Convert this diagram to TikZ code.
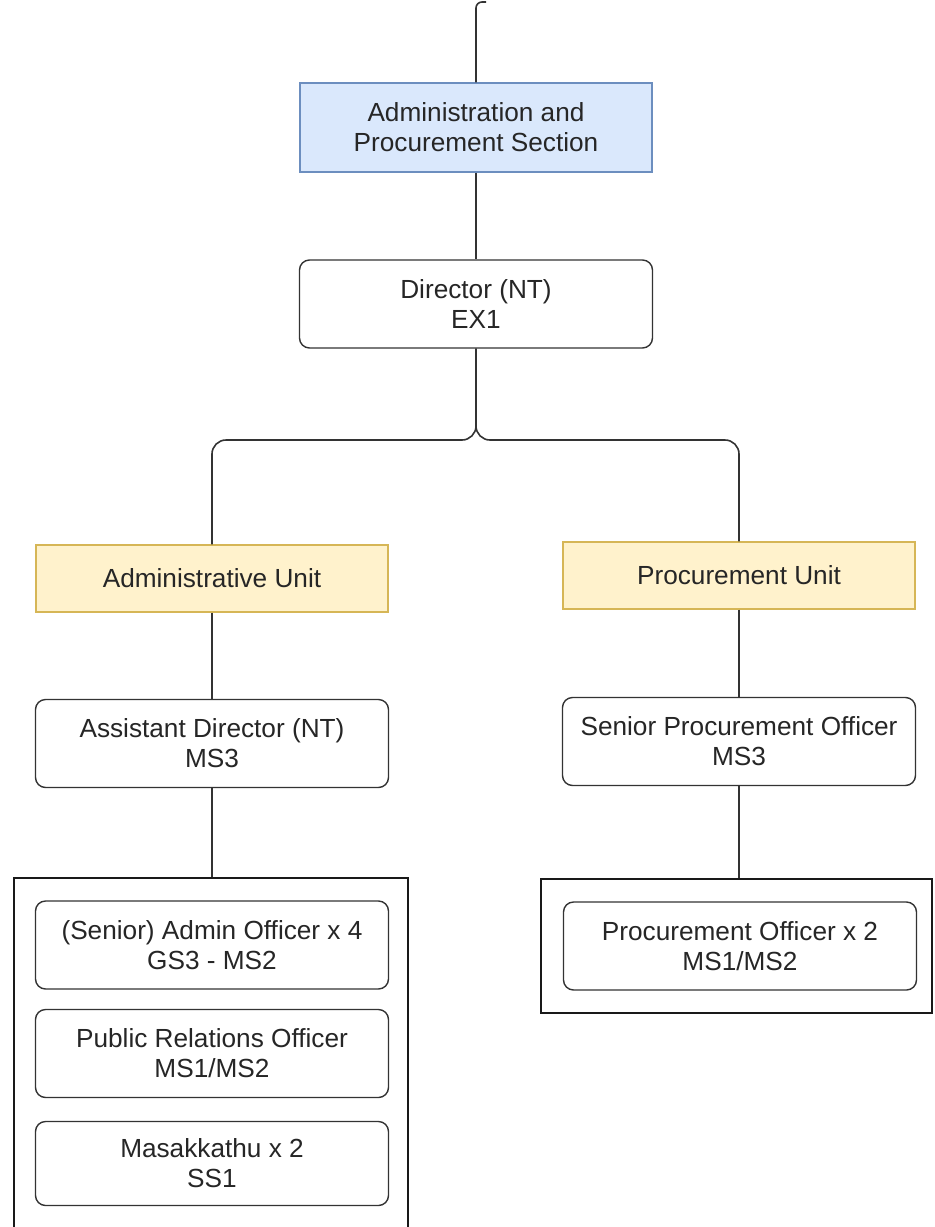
\documentclass[tikz,border=0pt]{standalone}
\usepackage{fontspec}
\setmainfont{Liberation Sans}
\usepackage{tikz}

\definecolor{secfill}{HTML}{DAE8FC}
\definecolor{secline}{HTML}{6C8EBF}
\definecolor{unitfill}{HTML}{FFF2CC}
\definecolor{unitline}{HTML}{D6B656}
\definecolor{linkgray}{HTML}{333333}

\tikzset{
	every node/.style = {font=\fontsize{13.1}{15}\selectfont, align=center, text=black!85},
	sectionbox/.style = {draw=secline, fill=secfill, line width=0.6pt, minimum width=176pt, minimum height=44.5pt, inner sep=0pt},
	unitbox/.style = {draw=unitline, fill=unitfill, line width=0.6pt, minimum width=176pt, minimum height=33.5pt, inner sep=0pt},
	postbox/.style = {draw=linkgray, fill=white, line width=0.7pt, rounded corners=5pt, minimum width=176.5pt, minimum height=44pt, inner sep=0pt},
	groupbox/.style = {draw=black!90, line width=0.8pt, inner sep=0pt},
	link/.style = {draw=linkgray, line width=0.8pt},
}

\begin{document}
\begin{tikzpicture}[x=0.5pt, y=-0.5pt]
			\useasboundingbox (0,0) rectangle (934,1227);
			\clip (0,0) rectangle (934,1227);

			% section and its head
			\node[sectionbox] (section) at (476,127.5) {Administration and\\Procurement Section};
			\node[postbox] (director) at (476,304) {Director (NT)\\EX1};

			% the two units
			\node[unitbox] (adminunit) at (212,578.5) {Administrative Unit};
			\node[unitbox] (procunit) at (739,575.5) {Procurement Unit};

			\node[postbox] (asstdir) at (212,743.5) {Assistant Director (NT)\\MS3};
			\node[postbox] (seniorproc) at (739,741.5) {Senior Procurement Officer\\MS3};

			% staff groups
			\node[groupbox, minimum width=197pt, minimum height=182pt] (admingroup) at (211,1060) {};
			\node[groupbox, minimum width=195.5pt, minimum height=67pt] (procgroup) at (736.5,946) {};

			\node[postbox] (adminofficer) at (212,945) {(Senior) Admin Officer x 4\\GS3 - MS2};
			\node[postbox] (relations) at (212,1053.5) {Public Relations Officer\\MS1/MS2};
			\node[postbox, minimum height=42pt] (masakkathu) at (212,1163.5) {Masakkathu x 2\\SS1};
			\node[postbox] (procofficer) at (740,946) {Procurement Officer x 2\\MS1/MS2};

			% connectors
			\coordinate (top) at (486,2);
			\coordinate (split) at (476,440);

			\draw[link, rounded corners=3pt] (section.north) |- (top);
			\draw[link] (section) -- (director);
			\draw[link, rounded corners=7pt] (director.south) -- (split) -| (adminunit.north);
			\draw[link, rounded corners=7pt] (director.south) -- (split) -| (procunit.north);

			\draw[link] (adminunit) -- (asstdir);
			\draw[link] (asstdir) -- (admingroup.north -| asstdir.south);
			\draw[link] (procunit) -- (seniorproc);
			\draw[link] (seniorproc) -- (procgroup.north -| seniorproc.south);
		\end{tikzpicture}
\end{document}
